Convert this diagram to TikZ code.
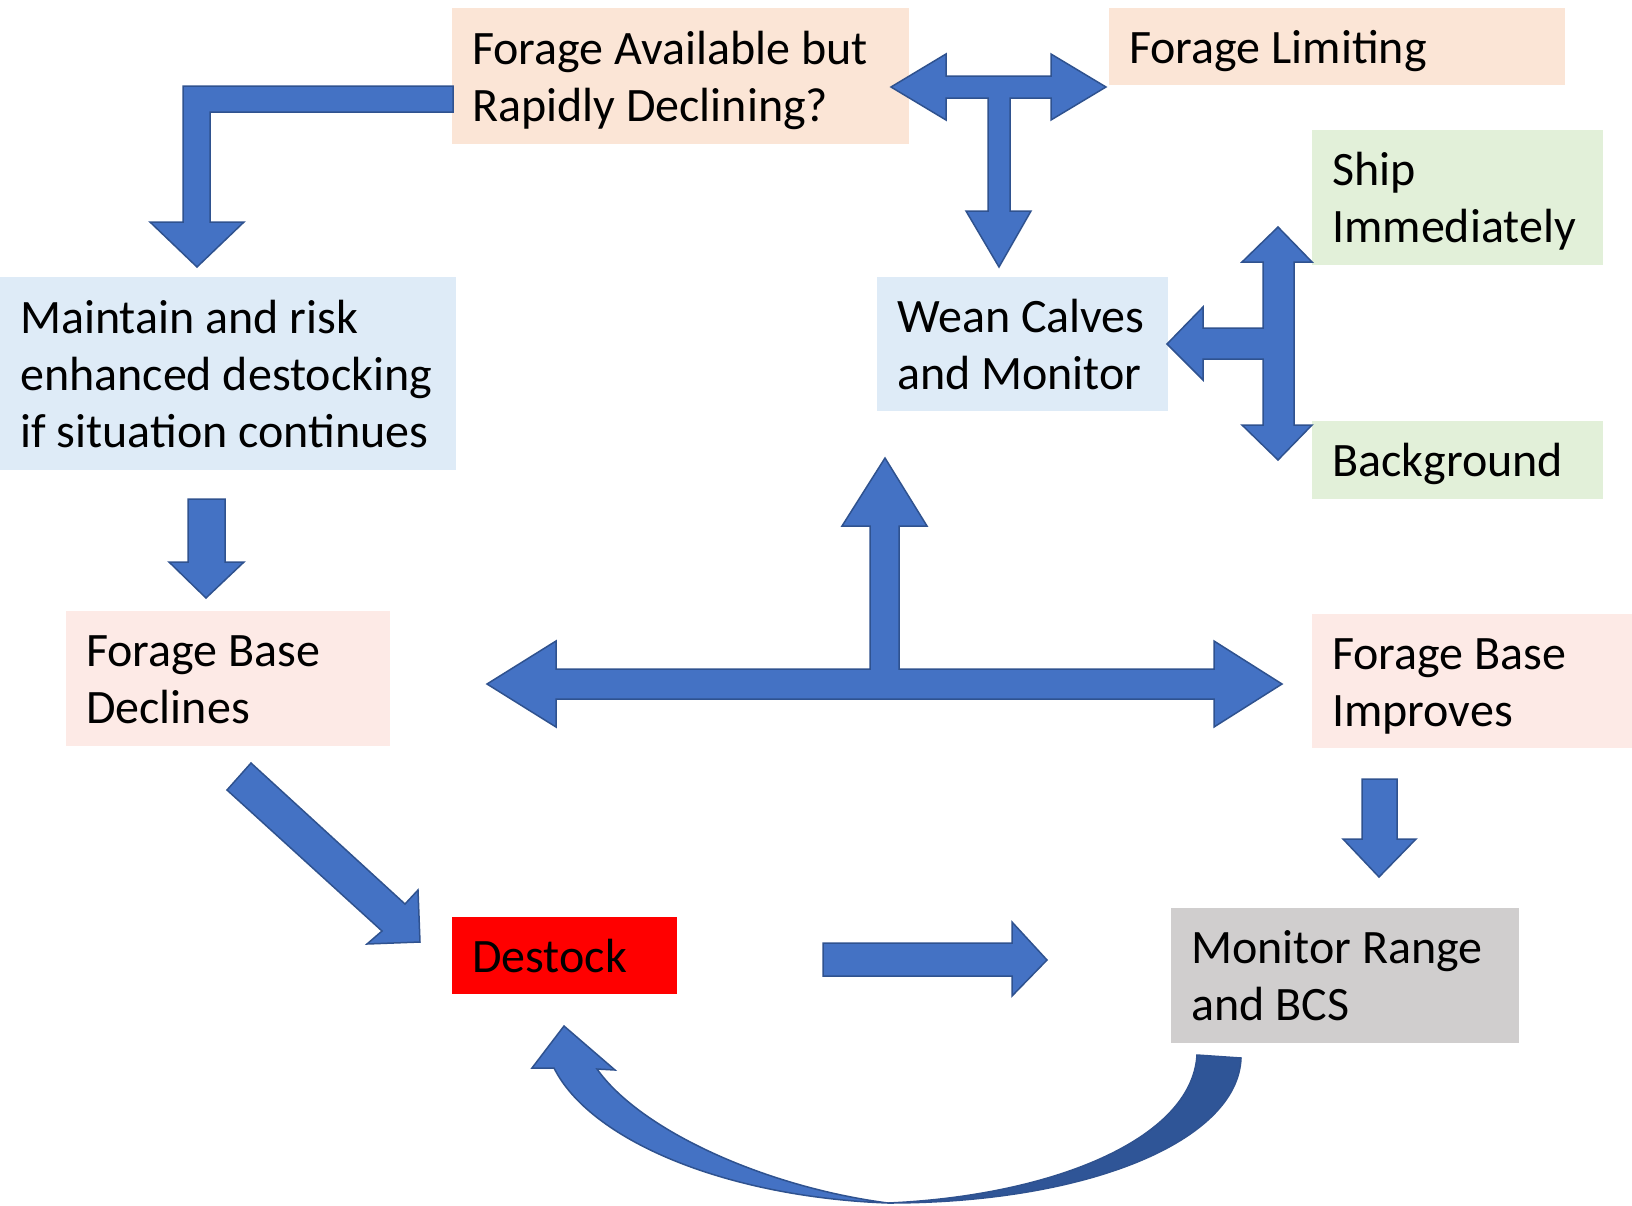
\documentclass[tikz,border=0pt]{standalone}
\usepackage{fontspec}
\setmainfont{Carlito}
\definecolor{pessego}{HTML}{FBE5D6}
\definecolor{celeste}{HTML}{DEEBF7}
\definecolor{verdeclaro}{HTML}{E2F0D9}
\definecolor{rosado}{HTML}{FDEAE6}
\definecolor{cinza}{HTML}{D0CECE}
\definecolor{azul}{HTML}{4472C4}
\definecolor{azulborda}{HTML}{2F528F}
\definecolor{azulescuro}{HTML}{2F5597}
\newcommand\apoio{\rule[-11pt]{0pt}{55pt}} % altura fixa de linha
\begin{document}
\begin{tikzpicture}[x=1pt,y=-1pt,
    caixa/.style={anchor=north west,inner xsep=20pt,inner ysep=0pt,align=flush left,
      font=\fontsize{48}{57}\selectfont,
      execute at begin node=\apoio, execute at end node=\apoio},
    seta/.style={fill=azul,draw=azulborda,line width=1.5pt,line join=miter}]
  \useasboundingbox (0,0) rectangle (1632,1205);
  % caixas
  \node[caixa,fill=pessego,text width=417pt,minimum height=136pt] (disp) at (452,8) {Forage Available but\\Rapidly Declining?};
  \node[caixa,fill=pessego,text width=416pt,minimum height=77pt] (lim) at (1109,8) {Forage Limiting};
  \node[caixa,fill=verdeclaro,text width=251pt,minimum height=135pt] (ship) at (1312,130) {Ship\\Immediately};
  \node[caixa,fill=verdeclaro,text width=251pt,minimum height=78pt] (bg) at (1312,421) {Background};
  \node[caixa,fill=celeste,text width=251pt,minimum height=134pt] (wean) at (877,277) {Wean Calves\\and Monitor};
  \node[caixa,fill=celeste,text width=416pt,minimum height=193pt] (mant) at (0,277) {Maintain and risk\\enhanced destocking\\if situation continues};
  \node[caixa,fill=rosado,text width=284pt,minimum height=135pt] (decl) at (66,611) {Forage Base\\Declines};
  \node[caixa,fill=rosado,text width=280pt,minimum height=134pt] (impr) at (1312,614) {Forage Base\\Improves};
  \node[caixa,fill=red,text width=185pt,minimum height=77pt] (dest) at (452,917) {Destock};
  \node[caixa,fill=cinza,text width=308pt,minimum height=135pt] (mon) at (1171,908) {Monitor Range\\and BCS};
  % setas em bloco
  \draw[seta] (453,86) -- (183,86) -- (183,222) -- (150,222) -- (197,267)
    -- (244,222) -- (210,222) -- (210,112) -- (453,112) -- cycle;
  \draw[seta] (891,87) -- (946,54) -- (946,76) -- (1051,76) -- (1051,54) -- (1106,87)
    -- (1051,120) -- (1051,98) -- (1010,98) -- (1010,211) -- (1031,211) -- (999,267)
    -- (966,211) -- (988,211) -- (988,98) -- (946,98) -- (946,120) -- cycle;
  \draw[seta] (1278,227) -- (1312,262) -- (1294,262) -- (1294,425) -- (1312,425)
    -- (1278,460) -- (1242,425) -- (1263,425) -- (1263,359) -- (1203,359) -- (1203,380)
    -- (1167,344) -- (1203,307) -- (1203,328) -- (1263,328) -- (1263,262) -- (1242,262) -- cycle;
  \draw[seta] (188,499) -- (225,499) -- (225,562) -- (244,562) -- (206,598)
    -- (169,562) -- (188,562) -- cycle;
  \draw[seta] (487,684) -- (556,641) -- (556,669) -- (870,669) -- (870,526) -- (842,526)
    -- (885,458) -- (927,526) -- (899,526) -- (899,669) -- (1214,669) -- (1214,641)
    -- (1282,684) -- (1214,727) -- (1214,699) -- (556,699) -- (556,727) -- cycle;
  \draw[seta] (1362,779) -- (1397,779) -- (1397,839) -- (1416,839) -- (1379,877)
    -- (1343,839) -- (1362,839) -- cycle;
  \draw[seta] (251,763) -- (405,904) -- (418,890) -- (420,942) -- (367,944)
    -- (382,931) -- (227,790) -- cycle;
  \draw[seta] (823,943) -- (1012,943) -- (1012,922) -- (1047,960) -- (1012,996)
    -- (1012,976) -- (823,976) -- cycle;
  % seta curva de volta ao destock
  \draw[seta,fill=azulescuro] (1241,1058) .. controls (1238,1140) and (1090,1203) .. (888,1203)
    .. controls (1050,1196) and (1192,1140) .. (1197,1055) -- cycle;
  \draw[seta] (888,1203) .. controls (725,1197) and (590,1140) .. (554,1068) -- (532,1068)
    -- (564,1026) -- (615,1070) -- (597,1069) .. controls (640,1130) and (765,1187) .. (888,1203) -- cycle;
\end{tikzpicture}
\end{document}
